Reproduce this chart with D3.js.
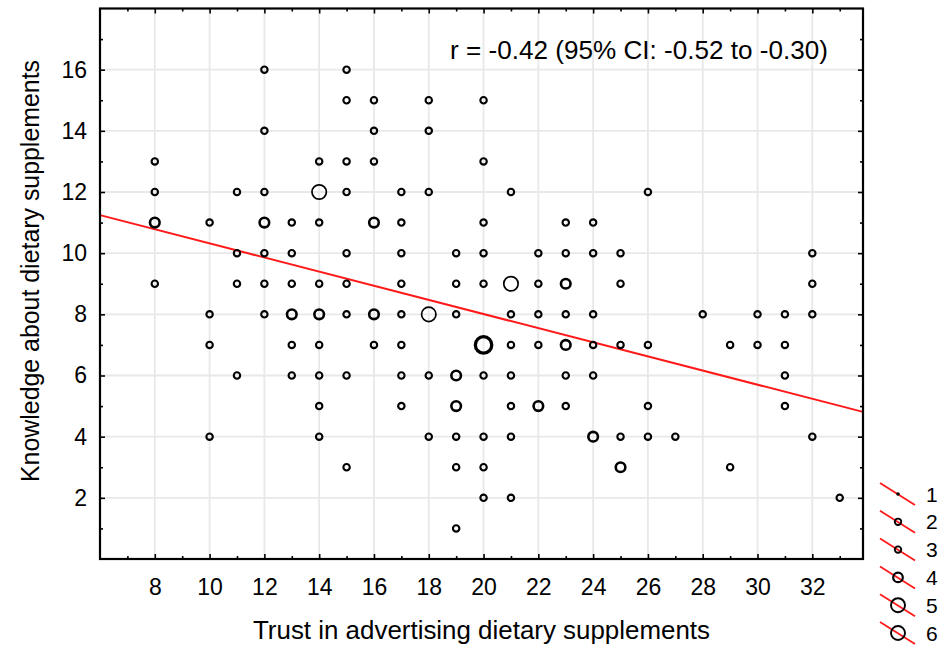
<!DOCTYPE html>
<html>
<head>
<meta charset="utf-8">
<script src="https://cdn.jsdelivr.net/npm/d3@7"></script>
<style>
  body { margin: 0; background: #fff; }
  text { font-family: Arial, "Liberation Sans", sans-serif; fill: #000; }
</style>
</head>
<body>
<div id="chart"></div>
<script>
// trust score, knowledge score and number of respondents at that point
var trust = [
    8, 8, 8, 8,
    10, 10, 10, 10,
    11, 11, 11, 11,
    12, 12, 12, 12, 12, 12, 12,
    13, 13, 13, 13, 13, 13,
    14, 14, 14, 14, 14, 14, 14, 14, 14,
    15, 15, 15, 15, 15, 15, 15, 15, 15,
    16, 16, 16, 16, 16, 16,
    17, 17, 17, 17, 17, 17, 17, 17,
    18, 18, 18, 18, 18, 18,
    19, 19, 19, 19, 19, 19, 19, 19,
    20, 20, 20, 20, 20, 20, 20, 20, 20, 20,
    21, 21, 21, 21, 21, 21, 21, 21,
    22, 22, 22, 22, 22,
    23, 23, 23, 23, 23, 23, 23,
    24, 24, 24, 24, 24, 24,
    25, 25, 25, 25, 25,
    26, 26, 26, 26,
    27, 28, 29, 29, 30, 30,
    31, 31, 31, 31,
    32, 32, 32, 32,
    33
];
var knowledge = [
    13, 12, 11, 9,
    11, 8, 7, 4,
    12, 10, 9, 6,
    16, 14, 12, 11, 10, 9, 8,
    11, 10, 9, 8, 7, 6,
    13, 12, 11, 9, 8, 7, 6, 5, 4,
    16, 15, 13, 12, 10, 9, 8, 6, 3,
    15, 14, 13, 11, 8, 7,
    12, 11, 10, 9, 8, 7, 6, 5,
    15, 14, 12, 8, 6, 4,
    10, 9, 8, 6, 5, 4, 3, 1,
    15, 13, 11, 10, 9, 7, 6, 4, 3, 2,
    12, 9, 8, 7, 6, 5, 4, 2,
    10, 9, 8, 7, 5,
    11, 10, 9, 8, 7, 6, 5,
    11, 10, 8, 7, 6, 4,
    10, 9, 7, 4, 3,
    12, 7, 5, 4,
    4, 8, 7, 3, 8, 7,
    8, 7, 6, 5,
    10, 9, 8, 4,
    2
];
var counts = [
    2, 2, 4, 2,
    2, 2, 2, 2,
    2, 2, 2, 2,
    2, 2, 2, 4, 2, 2, 2,
    2, 2, 2, 4, 2, 2,
    2, 5, 2, 2, 4, 2, 2, 2, 2,
    2, 2, 2, 2, 2, 2, 2, 2, 2,
    2, 2, 2, 4, 4, 2,
    2, 2, 2, 2, 2, 2, 2, 2,
    2, 2, 2, 5, 2, 2,
    2, 2, 2, 4, 4, 2, 2, 2,
    2, 2, 2, 2, 2, 6, 2, 2, 2, 2,
    2, 5, 2, 2, 2, 2, 2, 2,
    2, 2, 2, 2, 4,
    2, 2, 4, 2, 4, 2, 2,
    2, 2, 2, 2, 2, 4,
    2, 2, 2, 2, 4,
    2, 2, 2, 2,
    2, 2, 2, 2, 2, 2,
    2, 2, 2, 2,
    2, 2, 2, 2,
    2
];

var xTicks = [8, 10, 12, 14, 16, 18, 20, 22, 24, 26, 28, 30, 32];
var yTicks = [2, 4, 6, 8, 10, 12, 14, 16];
var legendCounts = [1, 2, 3, 4, 5, 6];

// fitted line: knowledge = a + b * trust
var fitA = 12.63, fitB = -0.231;
var rText = "r = -0.42 (95% CI: -0.52 to -0.30)";

var width = 941, height = 647;
var plotL = 100, plotR = 863, plotT = 8.5, plotB = 559;

var x = d3.scaleLinear().domain([6, 33.85]).range([plotL, plotR]);
var y = d3.scaleLinear().domain([0, 18]).range([plotB, plotT]);

var radius = {1: 1.8, 2: 3.2, 3: 3.2, 4: 4.8, 5: 7.2, 6: 8.2};
var strokeW = {1: 0, 2: 2.1, 3: 2.1, 4: 2.6, 5: 1.7, 6: 3.3};

var svg = d3.select("#chart")
    .append("svg")
    .attr("width", width)
    .attr("height", height);

// grid
svg.append("g").selectAll("line")
    .data(xTicks)
    .enter().append("line")
    .attr("x1", function(d) { return x(d); })
    .attr("x2", function(d) { return x(d); })
    .attr("y1", plotT)
    .attr("y2", plotB)
    .attr("stroke", "#e8e8e8")
    .attr("stroke-width", 1.8);

svg.append("g").selectAll("line")
    .data(yTicks)
    .enter().append("line")
    .attr("y1", function(d) { return y(d); })
    .attr("y2", function(d) { return y(d); })
    .attr("x1", plotL)
    .attr("x2", plotR)
    .attr("stroke", "#e8e8e8")
    .attr("stroke-width", 1.8);

var xMinor = d3.range(7, 34, 2);
var yMinor = d3.range(1, 18, 2);

function addAxis(axis, tx, ty, labels) {
    var g = svg.append("g")
        .attr("transform", "translate(" + tx + "," + ty + ")")
        .call(axis);
    g.select(".domain").remove();
    g.selectAll("line").attr("stroke", "#000").attr("stroke-width", 1.6);
    if (labels) {
        g.selectAll("text")
            .attr("font-size", "23px")
            .attr("font-family", "Arial, 'Liberation Sans', sans-serif")
            .attr("fill", "#000");
    } else {
        g.selectAll("text").remove();
    }
    return g;
}

addAxis(d3.axisBottom(x).tickValues(xTicks).tickSize(-5).tickPadding(19.5), 0, plotB, true);
addAxis(d3.axisBottom(x).tickValues(xMinor).tickSize(-3), 0, plotB, false);
addAxis(d3.axisTop(x).tickValues(xTicks).tickSize(-5), 0, plotT, false);
addAxis(d3.axisTop(x).tickValues(xMinor).tickSize(-3), 0, plotT, false);
addAxis(d3.axisLeft(y).tickValues(yTicks).tickSize(-5).tickPadding(13), plotL, 0, true);
addAxis(d3.axisLeft(y).tickValues(yMinor).tickSize(-3), plotL, 0, false);
addAxis(d3.axisRight(y).tickValues(yTicks).tickSize(-5), plotR, 0, false);
addAxis(d3.axisRight(y).tickValues(yMinor).tickSize(-3), plotR, 0, false);

// fitted line
svg.append("line")
    .attr("x1", x(6))
    .attr("y1", y(fitA + fitB * 6))
    .attr("x2", x(33.85))
    .attr("y2", y(fitA + fitB * 33.85))
    .attr("stroke", "#ff1a1a")
    .attr("stroke-width", 2);

// points
var points = trust.map(function(t, i) {
    return {x: t, y: knowledge[i], n: counts[i]};
});

svg.append("g").selectAll("circle")
    .data(points)
    .enter().append("circle")
    .attr("cx", function(d) { return x(d.x); })
    .attr("cy", function(d) { return y(d.y); })
    .attr("r", function(d) { return radius[d.n]; })
    .attr("fill", function(d) { return d.n == 1 ? "#000" : "none"; })
    .attr("stroke", "#000")
    .attr("stroke-width", function(d) { return strokeW[d.n]; });

// frame
svg.append("rect")
    .attr("x", plotL)
    .attr("y", plotT)
    .attr("width", plotR - plotL)
    .attr("height", plotB - plotT)
    .attr("fill", "none")
    .attr("stroke", "#000")
    .attr("stroke-width", 2.2);

svg.append("text")
    .attr("x", 450)
    .attr("y", 59)
    .attr("font-size", "25px")
    .attr("textLength", 378)
    .attr("lengthAdjust", "spacingAndGlyphs")
    .text(rText);

svg.append("text")
    .attr("x", 253)
    .attr("y", 639)
    .attr("font-size", "25px")
    .attr("textLength", 457)
    .attr("lengthAdjust", "spacingAndGlyphs")
    .text("Trust in advertising dietary supplements");

svg.append("text")
    .attr("transform", "translate(39,482) rotate(-90)")
    .attr("font-size", "25px")
    .attr("textLength", 422)
    .attr("lengthAdjust", "spacingAndGlyphs")
    .text("Knowledge about dietary supplements");

// legend
var legend = svg.append("g").selectAll("g")
    .data(legendCounts)
    .enter().append("g")
    .attr("transform", function(d, i) {
        return "translate(898," + (494 + i * 27.8) + ")";
    });

legend.append("line")
    .attr("x1", -18).attr("y1", -11)
    .attr("x2", 17).attr("y2", 11)
    .attr("stroke", "#ff1a1a")
    .attr("stroke-width", 1.8);

legend.append("circle")
    .attr("r", function(d) { return d >= 5 ? 7 : radius[d]; })
    .attr("fill", function(d) { return d == 1 ? "#000" : "none"; })
    .attr("stroke", "#000")
    .attr("stroke-width", function(d) { return d == 1 ? 0 : (d == 4 ? 2.2 : 1.9); });

legend.append("text")
    .attr("x", 28)
    .attr("dy", "0.36em")
    .attr("font-size", "21px")
    .text(function(d) { return d; });
</script>
</body>
</html>
